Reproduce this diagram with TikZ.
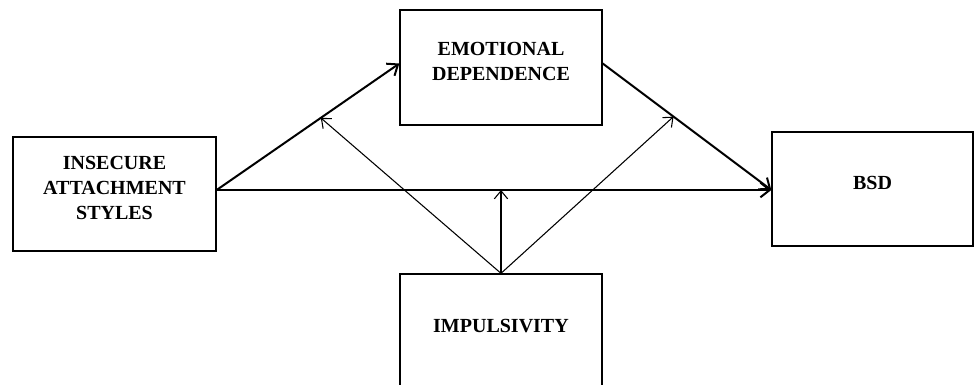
\documentclass[tikz,border=0pt]{standalone}
\usepackage{fontspec}
\setmainfont{Liberation Serif}
\usetikzlibrary{arrows.meta}
\tikzset{
	varbox/.style={draw, line width=1pt, inner sep=0pt},
	vartext/.style={align=center, font=\bfseries\fontsize{15}{18.4}\selectfont},
	patharrow/.style={line width=1.5pt, -{Straight Barb[length=7pt,width=11pt]}},
	modarrow/.style={line width=0.8pt, -{Straight Barb[length=6pt,width=10pt]}}
}

\begin{document}
\begin{tikzpicture}[x=0.75pt, y=-0.75pt]
		%%%%% START %%%%%
		\useasboundingbox (0,0) rectangle (974,385);
		\clip (0,0) rectangle (974,385);
		
		% boxes
		\node[varbox, minimum width=152.25pt, minimum height=85.5pt] (ias) at (114.5,194) {};
		\node[varbox, minimum width=151.5pt, minimum height=86.25pt] (emo) at (501,67.5) {};
		\node[varbox, minimum width=150.75pt, minimum height=85.5pt] (bsd) at (872.5,189) {};
		\node[varbox, minimum width=151.5pt, minimum height=87pt] (imp) at (501,332) {};
		
		\node[vartext] (iastext) at ([yshift=4.5pt]ias.center) {INSECURE\\ATTACHMENT\\STYLES};
		\node[vartext] (emotext) at ([yshift=4.5pt]emo.center) {EMOTIONAL\\DEPENDENCE};
		\node[vartext] (bsdtext) at ([yshift=4.5pt]bsd.center) {BSD};
		\node[vartext] (imptext) at ([yshift=4.5pt]imp.center) {IMPULSIVITY};
		
		% direct and indirect paths
		\coordinate (bsdin) at ([yshift=3pt]ias.east -| bsd.west);
		\coordinate (m2) at (imp.north |- bsdin);
		\draw[patharrow] ([yshift=3pt]ias.east) -- coordinate[pos=0.57] (m1) ([yshift=3pt]emo.west);
		\draw[patharrow] ([yshift=3pt]ias.east) -- (bsdin);
		\draw[patharrow] ([yshift=3pt]emo.east) -- coordinate[pos=0.42] (m3) (bsdin);
		
		% moderation
		\draw[modarrow] (imp.north) -- (m1);
		\draw[modarrow] (imp.north) -- (m2);
		\draw[modarrow] (imp.north) -- (m3);
		
		%%%%% END %%%%%
\end{tikzpicture}
\end{document}
